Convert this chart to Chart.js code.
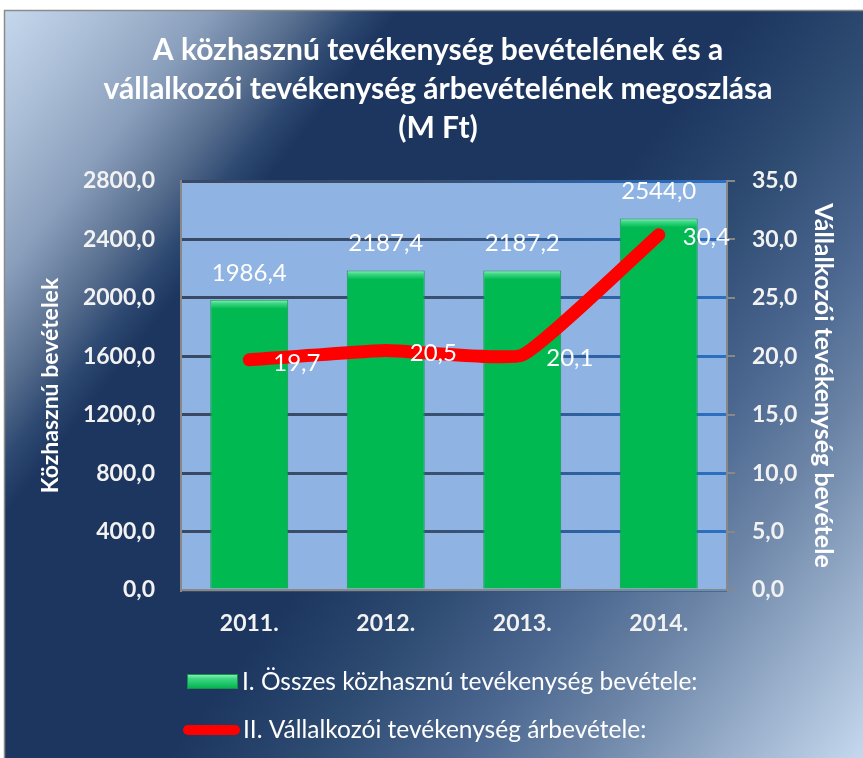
<!DOCTYPE html>
<html><head><meta charset="utf-8">
<script src="https://cdn.jsdelivr.net/npm/chart.js@4.4.1/dist/chart.umd.min.js"></script>
<style>html,body{margin:0;padding:0;background:#fff;overflow:hidden}#wrap{width:863px;height:758px}</style>
</head><body><div id="wrap"><canvas id="c" width="863" height="758"></canvas></div>
<script>
const categories = ['2011.', '2012.', '2013.', '2014.'];
const kozhasznuBevetel = [1986.4, 2187.4, 2187.2, 2544.0];
const vallalkozoiArbevetel = [19.7, 20.5, 20.1, 30.4];
const leftAxisRange = [0, 2800, 400];
const rightAxisRange = [0, 35, 5];
const titleLines = ['A közhasznú tevékenység bevételének és a', 'vállalkozói tevékenység árbevételének megoszlása', '(M Ft)'];
const seriesNames = ['I. Összes közhasznú tevékenység bevétele:', 'II. Vállalkozói tevékenység árbevétele:'];
const leftAxisTitle = 'Közhasznú bevételek';
const rightAxisTitle = 'Vállalkozói tevékenység bevétele';

const FONT = 'Lato';
const fmt = v => Number(v).toFixed(1).replace('.', ',');

function gridGrad(c) {
  const ch = c.chart, a = ch.chartArea;
  if (!a) return '#34506e';
  const g = ch.ctx.createLinearGradient(a.left, 0, a.right, 0);
  g.addColorStop(0, '#3a4963');
  g.addColorStop(0.45, '#3a4f6d');
  g.addColorStop(0.72, '#2f5f9c');
  g.addColorStop(1, '#2c70c2');
  return g;
}
function barFill(c) {
  const ch = c.chart, a = ch.chartArea;
  if (!a || c.type !== 'data') return '#00b950';
  const y = ch.scales.y.getPixelForValue(c.raw);
  const g = ch.ctx.createLinearGradient(0, y, 0, y + 9);
  g.addColorStop(0, '#9af3c2');
  g.addColorStop(0.35, '#42da88');
  g.addColorStop(1, '#00b950');
  return g;
}

const bgPlugin = {
  id: 'bg',
  beforeDraw(chart) {
    const ctx = chart.ctx, W = chart.width, H = chart.height, a = chart.chartArea;
    ctx.save();
    ctx.fillStyle = '#ffffff';
    ctx.fillRect(0, 0, W, H);
    const g = ctx.createLinearGradient(0, 0, 904, 707);
    g.addColorStop(0, '#c8dbf0');
    g.addColorStop(0.08, '#aabdd6');
    g.addColorStop(0.15, '#8a9fbc');
    g.addColorStop(0.21, '#5a7090');
    g.addColorStop(0.25, '#2f4a72');
    g.addColorStop(0.28, '#1c365f');
    g.addColorStop(0.52, '#1c365f');
    g.addColorStop(0.62, '#2e4b72');
    g.addColorStop(0.72, '#4b6790');
    g.addColorStop(0.8, '#6a83a5');
    g.addColorStop(1, '#c5d8ee');
    ctx.fillStyle = g;
    ctx.fillRect(4, 10, W - 4, H - 10);
    ctx.strokeStyle = '#8c8c8c';
    ctx.lineWidth = 1.5;
    ctx.strokeRect(4.5, 10.5, W, H);
    ctx.fillStyle = '#8fb4e3';
    ctx.fillRect(a.left, a.top, a.right - a.left, a.bottom - a.top);
    ctx.restore();
  }
};

const textPlugin = {
  id: 'texts',
  afterDatasetsDraw(chart) {
    const ctx = chart.ctx;
    ctx.save();
    ctx.fillStyle = '#ffffff';
    ctx.font = '24px ' + FONT;
    ctx.textBaseline = 'middle';
    const barMeta = chart.getDatasetMeta(1);
    ctx.textAlign = 'center';
    barMeta.data.forEach((el, i) => {
      ctx.fillText(fmt(kozhasznuBevetel[i]), el.x, el.y - 27);
    });
    const lineMeta = chart.getDatasetMeta(0);
    ctx.textAlign = 'left';
    lineMeta.data.forEach((el, i) => {
      ctx.fillText(fmt(vallalkozoiArbevetel[i]), el.x + 24, el.y + 3);
    });
    ctx.restore();
  },
  afterDraw(chart) {
    const ctx = chart.ctx;
    ctx.save();
    ctx.fillStyle = '#ffffff';
    ctx.textBaseline = 'middle';
    ctx.textAlign = 'center';
    ctx.font = 'bold 30px ' + FONT;
    const ty = [50, 89, 128];
    titleLines.forEach((t, i) => ctx.fillText(t, 438, ty[i]));
    // legend
    const g = ctx.createLinearGradient(0, 674, 0, 689);
    g.addColorStop(0, '#9af3c2');
    g.addColorStop(0.3, '#3fd884');
    g.addColorStop(1, '#00b04c');
    ctx.fillStyle = g;
    ctx.fillRect(187, 674, 51, 15);
    ctx.strokeStyle = '#14924a';
    ctx.lineWidth = 1;
    ctx.strokeRect(187.5, 674.5, 50, 14);
    ctx.strokeStyle = '#ff0000';
    ctx.lineWidth = 10;
    ctx.lineCap = 'round';
    ctx.beginPath();
    ctx.moveTo(188, 730);
    ctx.lineTo(235, 730);
    ctx.stroke();
    ctx.fillStyle = '#ffffff';
    ctx.textAlign = 'left';
    ctx.font = '24.5px ' + FONT;
    ctx.fillText(seriesNames[0], 242, 682);
    ctx.fillText(seriesNames[1], 243, 730);
    ctx.restore();
  }
};

new Chart(document.getElementById('c'), {
  data: {
    labels: categories,
    datasets: [
      {
        type: 'line',
        label: seriesNames[1],
        data: vallalkozoiArbevetel,
        yAxisID: 'y2',
        borderColor: '#ff0000',
        borderWidth: 13,
        borderCapStyle: 'round',
        borderJoinStyle: 'round',
        pointRadius: 0,
        tension: 0.12,
        order: 1
      },
      {
        type: 'bar',
        label: seriesNames[0],
        data: kozhasznuBevetel,
        yAxisID: 'y',
        backgroundColor: barFill,
        borderColor: '#169a4e',
        borderWidth: 1,
        borderSkipped: 'bottom',
        categoryPercentage: 1,
        barPercentage: 0.571,
        order: 2
      }
    ]
  },
  options: {
    responsive: false,
    animation: false,
    devicePixelRatio: 1,
    layout: { padding: { top: 181, left: 20, right: 16, bottom: 108 } },
    plugins: { legend: { display: false }, title: { display: false }, tooltip: { enabled: false } },
    scales: {
      x: {
        grid: { display: false, drawTicks: false },
        border: { display: true, color: '#888888', width: 2 },
        ticks: { color: '#f2f2f2', font: { family: FONT, weight: 'bold', size: 23 }, padding: 20 },
        afterFit: s => { s.height = 60; }
      },
      y: {
        position: 'left',
        min: leftAxisRange[0], max: leftAxisRange[1],
        ticks: { stepSize: leftAxisRange[2], callback: v => fmt(v), color: '#f2f2f2', font: { family: FONT, weight: 'bold', size: 23 }, padding: 26 },
        grid: { drawTicks: false, color: gridGrad, lineWidth: 3 },
        border: { display: true, color: '#888888', width: 2 },
        title: { display: true, text: leftAxisTitle, color: '#ffffff', font: { family: FONT, weight: 'bold', size: 23 }, padding: { top: 17, bottom: 0 } },
        afterFit: s => { s.width = 161; }
      },
      y2: {
        position: 'right',
        min: rightAxisRange[0], max: rightAxisRange[1],
        ticks: { stepSize: rightAxisRange[2], callback: v => fmt(v), color: '#f2f2f2', font: { family: FONT, weight: 'bold', size: 23 }, padding: 17 },
        grid: { drawOnChartArea: false, drawTicks: true, tickLength: 8, color: '#888888', lineWidth: 2 },
        border: { display: true, color: '#888888', width: 2 },
        title: { display: true, text: rightAxisTitle, color: '#ffffff', font: { family: FONT, weight: 'bold', size: 25 }, padding: { top: 9, bottom: 0 } },
        afterFit: s => { s.width = 120; }
      }
    }
  },
  plugins: [bgPlugin, textPlugin]
});
</script>
</body></html>
